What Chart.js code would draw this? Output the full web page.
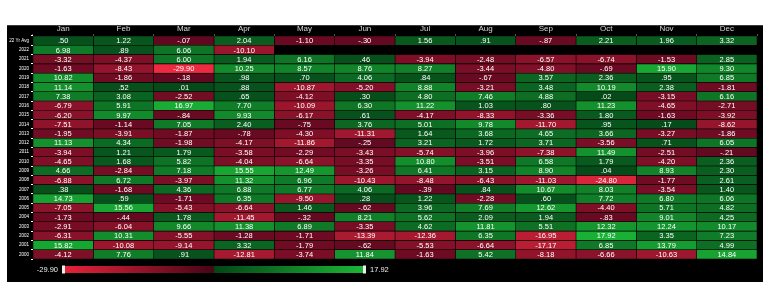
<!DOCTYPE html>
<html>
<head>
<meta charset="utf-8">
<script src="https://cdn.jsdelivr.net/npm/chart.js@4/dist/chart.umd.min.js"></script>
<style>
  html, body { margin: 0; padding: 0; background: #fff; }
  #wrap { position: absolute; left: 7px; top: 25px; width: 756px; height: 257px; background: #000; border-top: 1px solid #3a3a3a; box-sizing: border-box; }
  canvas { display: block; }
</style>
</head>
<body>
<div id="wrap"><canvas id="c" width="756" height="256"></canvas></div>
<script>
// Monthly returns by year, with the 22-year average on top
const months = ['Jan','Feb','Mar','Apr','May','Jun','Jul','Aug','Sep','Oct','Nov','Dec'];
const rowLabels = ['22 Yr Avg','2022','2021','2020','2019','2018','2017','2016','2015','2014','2013','2012',
                   '2011','2010','2009','2008','2007','2006','2005','2004','2003','2002','2001','2000'];

const jan = [0.50, 6.98, -3.32, -1.63, 10.82, 11.14, 7.38, -6.79, -6.20, -7.51, -1.95, 11.13, -3.94, -4.65, 4.66, -6.88, 0.38, 14.73, -7.05, -1.73, -2.91, -6.31, 15.82, -4.12];
const feb = [1.22, 0.89, -4.37, -8.43, -1.86, 0.52, 3.08, 5.91, 9.97, -1.14, -3.91, 4.34, 1.21, 1.68, -2.84, 6.72, -1.68, 0.59, 15.56, -0.44, -6.04, 10.31, -10.08, 7.76];
const mar = [-0.07, 6.06, 6.00, -29.90, -0.18, 0.01, -2.52, 16.97, -0.84, 7.05, -1.87, -1.98, 1.79, 5.82, 7.18, -3.97, 4.36, -1.71, -5.43, 1.78, 9.66, -5.55, -9.14, 0.91];
const apr = [2.04, -10.10, 1.94, 10.25, 0.98, 0.88, 0.65, 7.70, 9.93, 2.40, -0.78, -4.17, -3.58, -4.04, 15.55, 11.32, 6.88, 6.35, -6.64, -11.45, 11.38, -1.28, 3.32, -12.81];
const may = [-1.10, null, 6.16, 8.57, 0.70, -10.87, -4.12, -10.09, -6.17, -0.75, -4.30, -11.86, -2.29, -6.64, 12.49, 6.96, 6.77, -9.50, 1.46, -0.32, 6.89, -1.71, -1.79, -3.74];
const jun = [-0.30, null, 0.46, 8.76, 4.06, -5.20, 0.30, 6.30, 0.61, 3.76, -11.31, -0.25, -3.43, -3.35, -3.26, -10.43, 4.06, 0.28, -0.62, 8.21, -3.35, -13.39, -0.62, 11.84];
const jul = [1.56, null, -3.94, 8.27, 0.84, 8.88, 4.80, 11.22, -4.17, 5.01, 1.64, 3.21, -5.74, 10.80, 6.41, -8.48, -0.39, 1.22, 3.96, 5.62, 4.62, -12.36, -5.53, -1.63];
const aug = [0.91, null, -2.48, -3.44, -0.67, -3.21, 7.46, 1.03, -8.33, 9.78, 3.68, 1.72, -3.96, -3.51, 3.15, -6.43, 0.84, -2.28, 7.69, 2.09, 11.81, 6.35, -6.64, 5.42];
const sep = [-0.87, null, -6.57, -4.80, 3.57, 3.48, 4.88, 0.80, -3.36, -11.70, 4.65, 3.71, -7.38, 6.58, 8.90, -11.03, 10.67, 0.60, 12.62, 1.94, 5.51, -16.95, -17.17, -8.18];
const oct = [2.21, null, -6.74, -0.69, 2.36, 10.19, 0.02, 11.23, 1.80, 0.95, 3.66, -3.56, 11.49, 1.79, 0.04, -24.80, 8.03, 7.72, -4.40, -0.83, 12.32, 17.92, 6.85, -6.66];
const nov = [1.96, null, -1.53, 15.90, 0.95, 2.38, -3.15, -4.65, -1.63, 0.17, -3.27, 0.71, -2.51, -4.20, 8.93, -1.77, -3.54, 6.80, 5.71, 9.01, 12.24, 3.35, 13.79, -10.63];
const dec = [3.32, null, 2.85, 9.30, 6.85, -1.81, 6.16, -2.71, -3.92, -8.62, -1.86, 6.05, -0.21, 2.36, 2.30, 2.61, 1.40, 6.06, 4.82, 4.25, 10.17, 7.23, 4.99, 14.84];

const columns = [jan, feb, mar, apr, may, jun, jul, aug, sep, oct, nov, dec];

// colour scale limits come from the values themselves
const allVals = columns.flat().filter(v => v !== null);
const minVal = Math.min(...allVals);
const maxVal = Math.max(...allVals);

const RED_DARK = [96, 8, 32], RED_BRIGHT = [236, 42, 64];
const GREEN_DARK = [6, 74, 26], GREEN_BRIGHT = [26, 176, 54];

function mix(a, b, t) {
  return 'rgb(' + a.map((c, i) => Math.round(c + (b[i] - c) * t)).join(',') + ')';
}
function cellColor(v) {
  if (v === null) return 'rgba(0,0,0,0)';
  if (v >= 0) return mix(GREEN_DARK, GREEN_BRIGHT, Math.pow(v / maxVal, 0.8));
  return mix(RED_DARK, RED_BRIGHT, Math.pow(v / minVal, 0.8));
}
function fmt(v) {
  let s = v.toFixed(2);
  return s.replace(/^(-?)0\./, '$1.');
}

// one floating-bar dataset per month, one bar per row
const datasets = columns.map((col, m) => ({
  label: months[m],
  data: col.map(v => v === null ? null : [m, m + 1]),
  values: col,
  backgroundColor: col.map(cellColor),
  borderColor: '#000',
  borderWidth: 0.6,
  borderSkipped: false,
  grouped: false,
  barPercentage: 1,
  categoryPercentage: 1
}));

const cellText = {
  id: 'cellText',
  afterDatasetsDraw(chart) {
    const ctx = chart.ctx;
    ctx.save();
    ctx.fillStyle = '#ffffff';
    ctx.font = '7.5px "Liberation Sans", Arial, sans-serif';
    ctx.textAlign = 'center';
    ctx.textBaseline = 'middle';
    chart.data.datasets.forEach((ds, di) => {
      const meta = chart.getDatasetMeta(di);
      meta.data.forEach((el, i) => {
        const v = ds.values[i];
        if (v === null) return;
        const p = el.getCenterPoint();
        ctx.fillText(fmt(v), p.x, p.y + 0.5);
      });
    });
    ctx.restore();
  }
};

const colorBar = {
  id: 'colorBar',
  afterDraw(chart) {
    const ctx = chart.ctx;
    const x0 = 56, x1 = 358, y = 240, h = 7;
    const g = ctx.createLinearGradient(x0, 0, x1, 0);
    g.addColorStop(0, 'rgb(232,34,58)');
    g.addColorStop(0.497, 'rgb(70,6,22)');
    g.addColorStop(0.503, 'rgb(4,70,22)');
    g.addColorStop(1, 'rgb(28,182,54)');
    ctx.save();
    ctx.fillStyle = g;
    ctx.fillRect(x0, y, x1 - x0, h);
    ctx.fillStyle = '#eeeeee';
    ctx.fillRect(x0 - 1, y - 0.5, 3, h + 1);
    ctx.fillRect(x1 - 2, y - 0.5, 3, h + 1);
    ctx.font = '7.5px "Liberation Sans", Arial, sans-serif';
    ctx.textBaseline = 'middle';
    ctx.textAlign = 'right';
    ctx.fillText(fmt(minVal), x0 - 5, y + h / 2);
    ctx.textAlign = 'left';
    ctx.fillText(fmt(maxVal), x1 + 5, y + h / 2);
    ctx.restore();
  }
};

new Chart(document.getElementById('c'), {
  type: 'bar',
  data: { labels: rowLabels, datasets },
  options: {
    indexAxis: 'y',
    responsive: false,
    animation: false,
    layout: { padding: { left: 0, right: 6, top: 0, bottom: 23 } },
    plugins: { legend: { display: false }, tooltip: { enabled: false } },
    scales: {
      x: { type: 'linear', min: 0, max: 12, display: false },
      xTop: {
        type: 'category', labels: months, position: 'top', offset: true,
        grid: { display: true, drawOnChartArea: false, drawTicks: true, tickLength: 2, color: '#555', offset: true },
        border: { display: false },
        ticks: { color: '#d8d8d8', font: { family: '"Liberation Sans", Arial, sans-serif', size: 8 }, padding: 0, maxRotation: 0 },
        afterFit(s) { s.height = 10; }
      },
      y: {
        type: 'category', offset: true,
        grid: { display: true, drawOnChartArea: false, drawTicks: true, tickLength: 2, color: '#ffffff', offset: true },
        border: { display: false },
        ticks: { color: '#ffffff', font: { family: '"Liberation Sans", Arial, sans-serif', size: 4.5 }, padding: 2, autoSkip: false },
        afterFit(s) { s.width = 26; }
      }
    }
  },
  plugins: [cellText, colorBar]
});
</script>
</body>
</html>
